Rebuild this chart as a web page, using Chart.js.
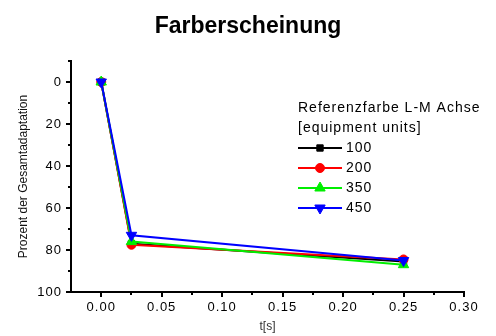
<!DOCTYPE html>
<html>
<head>
<meta charset="utf-8">
<script src="https://cdn.jsdelivr.net/npm/chart.js@4/dist/chart.umd.min.js"></script>
<style>
  html, body { margin: 0; padding: 0; background: #fff; }
  #wrap { width: 496px; height: 336px; }
</style>
</head>
<body>
<div id="wrap"><canvas id="c" width="496" height="336"></canvas></div>
<script>
// data
const times = [0, 0.025, 0.25];
const ref100 = [0, 77, 85.5];
const ref200 = [0, 77.5, 84.5];
const ref350 = [0, 76, 87];
const ref450 = [0, 73, 85];
const seriesLabels = ['100', '200', '350', '450'];
const xTicks = [0, 0.05, 0.10, 0.15, 0.20, 0.25, 0.30];
const xMinorTicks = [0.025, 0.075, 0.125, 0.175, 0.225, 0.275];
const yTicks = [0, 20, 40, 60, 80, 100];
const yMinorTicks = [-10, 10, 30, 50, 70, 90];
const legendTitle = ['Referenzfarbe L-M Achse', '[equipment units]'];

Chart.defaults.font.family = '"Liberation Sans", Arial, sans-serif';
Chart.defaults.color = '#000';

const toPoints = (vals) => vals.map((v, i) => ({ x: times[i], y: v }));

function series(label, vals, color, style, radius, rotation, order) {
    return {
        label: label,
        data: toPoints(vals),
        borderColor: color,
        backgroundColor: color,
        pointBackgroundColor: color,
        pointBorderColor: color,
        borderWidth: 2,
        pointStyle: style,
        pointRadius: radius,
        pointRotation: rotation,
        pointBorderWidth: 1,
        showLine: true,
        order: order,
    };
}

const datasets = [
    series(seriesLabels[0], ref100, '#000000', 'rect', 4.5, 0, 3),
    series(seriesLabels[1], ref200, '#ff0000', 'circle', 4.5, 0, 2),
    series(seriesLabels[2], ref350, '#00ee00', 'triangle', 6, 0, 1),
    series(seriesLabels[3], ref450, '#0000ff', 'triangle', 6, 180, 0),
];

// letter spaced axis text (drawn after datasets, title stays normal)
const spacing = {
    id: 'spacing',
    beforeDatasetsDraw(chart) {
        chart.ctx.letterSpacing = '1px';
    },
    afterDraw(chart) {
        chart.ctx.letterSpacing = '0px';
    }
};

const minorTicks = {
    id: 'minorTicks',
    afterDraw(chart) {
        const { ctx, chartArea, scales } = chart;
        ctx.save();
        ctx.strokeStyle = '#000';
        ctx.lineWidth = 2;
        ctx.beginPath();
        xMinorTicks.forEach((v) => {
            const x = Math.round(scales.x.getPixelForValue(v));
            ctx.moveTo(x, chartArea.bottom);
            ctx.lineTo(x, chartArea.bottom + 3);
        });
        yMinorTicks.forEach((v) => {
            const y = Math.round(scales.y.getPixelForValue(v));
            ctx.moveTo(chartArea.left, y);
            ctx.lineTo(chartArea.left - 3, y);
        });
        ctx.stroke();
        ctx.restore();
    }
};

const boxLegend = {
    id: 'boxLegend',
    afterDraw(chart) {
        const ctx = chart.ctx;
        ctx.save();
        ctx.letterSpacing = '1px';
        ctx.font = '14px "Liberation Sans", Arial, sans-serif';
        ctx.textBaseline = 'middle';
        ctx.fillStyle = '#000';
        const x0 = 298;
        legendTitle.forEach((t, i) => ctx.fillText(t, x0, 108 + i * 20));
        chart.data.datasets.forEach((ds, i) => {
            const y = 148 + i * 20;
            ctx.strokeStyle = ds.borderColor;
            ctx.lineWidth = 2;
            ctx.beginPath();
            ctx.moveTo(x0, y);
            ctx.lineTo(x0 + 44, y);
            ctx.stroke();
            ctx.fillStyle = ds.pointBackgroundColor;
            ctx.lineWidth = 1;
            Chart.helpers.drawPoint(ctx, {
                pointStyle: ds.pointStyle,
                radius: ds.pointRadius,
                rotation: ds.pointRotation,
                borderWidth: 1,
            }, x0 + 22, y);
            ctx.fillStyle = '#000';
            ctx.fillText(ds.label, x0 + 48, y);
        });
        ctx.restore();
    }
};

new Chart(document.getElementById('c'), {
    type: 'scatter',
    data: { datasets: datasets },
    plugins: [spacing, minorTicks, boxLegend],
    options: {
        responsive: false,
        animation: false,
        layout: { padding: 0 },
        plugins: {
            legend: { display: false },
            tooltip: { enabled: false },
            title: {
                display: true,
                text: 'Farberscheinung',
                font: { size: 23, weight: 'bold' },
                color: '#000',
                padding: { top: 13, bottom: 20.4 },
            },
        },
        scales: {
            x: {
                type: 'linear',
                min: -0.025,
                max: 0.30,
                afterBuildTicks: (s) => { s.ticks = xTicks.map((v) => ({ value: v })); },
                afterFit: (s) => { s.height = 44; },
                ticks: {
                    z: 1,
                    autoSkip: false,
                    maxRotation: 0,
                    padding: 3,
                    font: { size: 13 },
                    callback: (v) => Number(v).toFixed(2),
                },
                grid: { drawOnChartArea: false, tickLength: 5, color: '#000', lineWidth: 2 },
                border: { color: '#000', width: 2 },
                title: {
                    display: true,
                    text: 't[s]',
                    color: '#333',
                    font: { size: 12 },
                    padding: { top: 0, bottom: 2 },
                },
            },
            y: {
                type: 'linear',
                reverse: true,
                min: -10,
                max: 100,
                afterBuildTicks: (s) => { s.ticks = yTicks.map((v) => ({ value: v })); },
                afterFit: (s) => { s.width = 71; },
                ticks: {
                    z: 1,
                    padding: 4,
                    font: { size: 13 },
                },
                grid: { drawOnChartArea: false, tickLength: 5, color: '#000', lineWidth: 2 },
                border: { color: '#000', width: 2 },
                title: {
                    display: true,
                    text: 'Prozent der Gesamtadaptation',
                    color: '#111',
                    font: { size: 12 },
                    padding: { top: 16, bottom: 0 },
                },
            },
            // empty right-hand spacer so the title stays centred on the page
            spacer: {
                type: 'linear',
                position: 'right',
                afterFit: (s) => { s.width = 32; },
                ticks: { display: false },
                grid: { display: false, drawTicks: false },
                border: { display: false },
            },
        },
    },
});
</script>
</body>
</html>
